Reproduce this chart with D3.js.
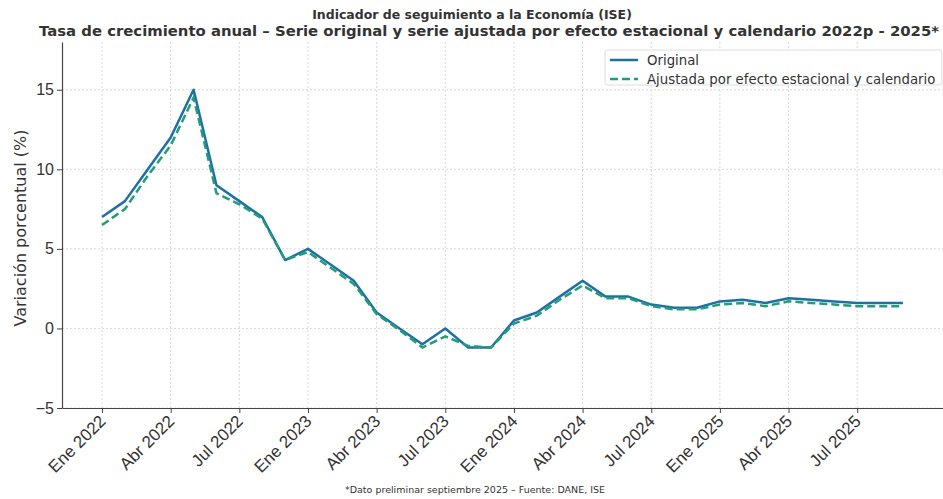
<!DOCTYPE html>
<html>
<head>
<meta charset="utf-8">
<title>ISE</title>
<script src="https://d3js.org/d3.v7.min.js"></script>
<style>
body {margin:0; background:white;}
svg {font-family: "DejaVu Sans", sans-serif;}
</style>
</head>
<body>
<svg width="943" height="499"></svg>
<script>
// one value per month, index 0..35
var original = [7.0, 8.0, 10.0, 12.0, 15.0, 9.0, 8.0, 7.0, 4.3, 5.0, 4.0, 3.0,
                1.0, 0.0, -1.0, 0.0, -1.2, -1.2, 0.5, 1.0, 2.0, 3.0, 2.0, 2.0,
                1.5, 1.3, 1.3, 1.7, 1.8, 1.6, 1.9, 1.8, 1.7, 1.6, 1.6, 1.6];
var ajustada = [6.5, 7.5, 9.6, 11.5, 14.5, 8.5, 7.8, 6.9, 4.3, 4.8, 3.8, 2.8,
                0.9, -0.1, -1.2, -0.5, -1.1, -1.2, 0.3, 0.8, 1.8, 2.7, 1.9, 1.9,
                1.4, 1.2, 1.2, 1.5, 1.6, 1.4, 1.7, 1.6, 1.5, 1.4, 1.4, 1.4];
var tickIdx = [0, 3, 6, 9, 12, 15, 18, 21, 24, 27, 30, 33];
var tickLabels = ["Ene 2022", "Abr 2022", "Jul 2022", "Ene 2023", "Abr 2023", "Jul 2023",
                  "Ene 2024", "Abr 2024", "Jul 2024", "Ene 2025", "Abr 2025", "Jul 2025"];
var yTicks = [-5, 0, 5, 10, 15];
var seriesNames = ["Original", "Ajustada por efecto estacional y calendario"];

var mLeft = 62, mRight = 943, mTop = 42, mBottom = 408;
var svg = d3.select("svg");

var n = original.length;
var x = d3.scaleLinear().domain([-1.75, n - 1 + 1.75]).range([mLeft, mRight]);
var y = d3.scaleLinear().domain([-5, 18]).range([mBottom, mTop]);

// grid
svg.append("g").selectAll("line").data(tickIdx).enter().append("line")
  .attr("x1", d => x(d)).attr("x2", d => x(d))
  .attr("y1", mTop).attr("y2", mBottom)
  .attr("stroke", "#d8d8d8").attr("stroke-width", 1).attr("stroke-dasharray", "2,2");
svg.append("g").selectAll("line").data(yTicks).enter().append("line")
  .attr("x1", mLeft).attr("x2", mRight)
  .attr("y1", d => y(d)).attr("y2", d => y(d))
  .attr("stroke", "#d8d8d8").attr("stroke-width", 1).attr("stroke-dasharray", "2,2");

// lines
var line = d3.line().x((d, i) => x(i)).y(d => y(d));
svg.append("path").datum(original).attr("d", line)
  .attr("fill", "none").attr("stroke", "#1f6fa6").attr("stroke-width", 2.5)
  .attr("stroke-linejoin", "round");
svg.append("path").datum(ajustada).attr("d", line)
  .attr("fill", "none").attr("stroke", "#1f9e78").attr("stroke-width", 2.5)
  .attr("stroke-dasharray", "8,4");

// axes
var xAxis = d3.axisBottom(x).tickValues(tickIdx)
  .tickFormat((d, i) => tickLabels[i]).tickSize(5).tickSizeOuter(0);
var gx = svg.append("g").attr("transform", "translate(0," + mBottom + ")").call(xAxis);
gx.select(".domain").attr("stroke", "#444").attr("stroke-width", 1.2);
gx.selectAll(".tick line").attr("stroke", "#444");
gx.selectAll("text")
  .style("font-size", "17px").attr("fill", "#333")
  .attr("text-anchor", "end")
  .attr("x", 0).attr("y", 0).attr("dy", "0.35em")
  .attr("transform", "translate(0,10) rotate(-45)");

var yAxis = d3.axisLeft(y).tickValues(yTicks).tickSize(5).tickSizeOuter(0)
  .tickFormat(d => d < 0 ? "\u2212" + Math.abs(d) : d);
var gy = svg.append("g").attr("transform", "translate(" + mLeft + ",0)").call(yAxis);
gy.select(".domain").attr("stroke", "#444").attr("stroke-width", 1.2);
gy.selectAll(".tick line").attr("stroke", "#444");
gy.selectAll("text").style("font-size", "16px").attr("fill", "#333");

svg.append("text")
  .attr("transform", "translate(20," + 228 + ") rotate(-90)")
  .attr("text-anchor", "middle").attr("dy", "0.35em")
  .style("font-size", "16px").attr("fill", "#333")
  .text("Variación porcentual (%)");

// titles
svg.append("text").attr("x", 472).attr("y", 19).attr("text-anchor", "middle")
  .style("font-size", "12.5px").style("font-weight", "bold").attr("fill", "#333")
  .text("Indicador de seguimiento a la Economía (ISE)");
svg.append("text").attr("x", 489).attr("y", 36).attr("text-anchor", "middle")
  .style("font-size", "14px").style("font-weight", "bold").attr("fill", "#333")
  .attr("textLength", 900).attr("lengthAdjust", "spacingAndGlyphs")
  .text("Tasa de crecimiento anual – Serie original y serie ajustada por efecto estacional y calendario 2022p - 2025*");

svg.append("text").attr("x", 475).attr("y", 493).attr("text-anchor", "middle")
  .style("font-size", "9.5px").attr("fill", "#333")
  .text("*Dato preliminar septiembre 2025 – Fuente: DANE, ISE");

// legend
var lg = svg.append("g").attr("transform", "translate(605,50)");
lg.append("rect").attr("width", 337).attr("height", 35).attr("rx", 3)
  .attr("fill", "white").attr("fill-opacity", 0.85).attr("stroke", "#ddd");
var colors = ["#1f6fa6", "#1f9e78"];
seriesNames.forEach(function(s, i) {
  lg.append("line").attr("x1", 5).attr("x2", 33).attr("y1", 10 + i * 19).attr("y2", 10 + i * 19)
    .attr("stroke", colors[i]).attr("stroke-width", 2.5)
    .attr("stroke-dasharray", i == 1 ? "8,4" : null);
  lg.append("text").attr("x", 42).attr("y", 10 + i * 19).attr("dy", "0.35em")
    .style("font-size", "13.3px").attr("fill", "#333").text(s);
});
</script>
</body>
</html>
